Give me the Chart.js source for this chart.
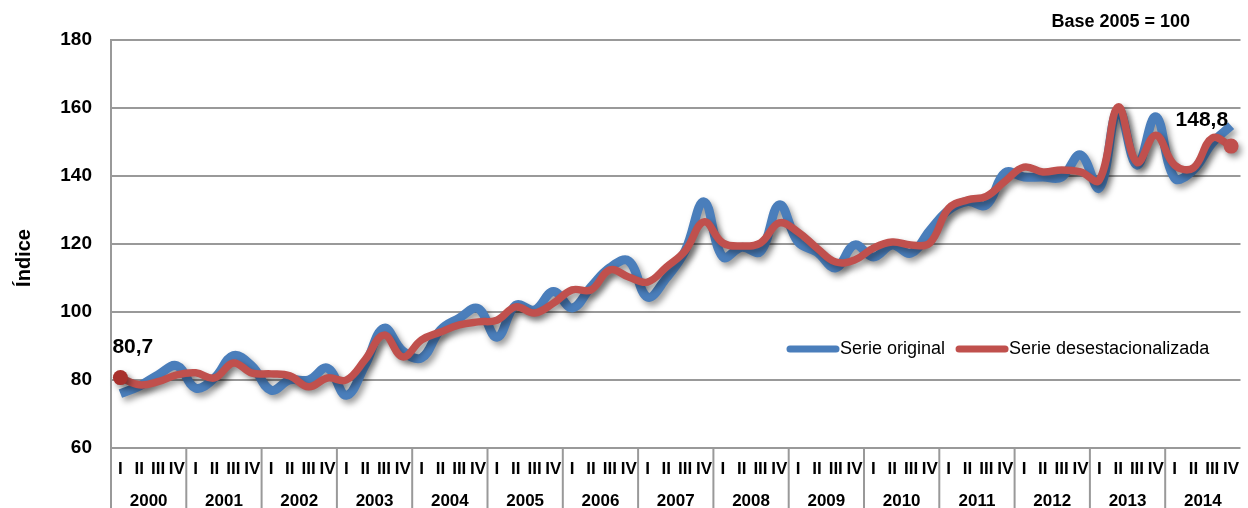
<!DOCTYPE html>
<html>
<head>
<meta charset="utf-8">
<script src="https://cdn.jsdelivr.net/npm/chart.js@4.4.0/dist/chart.umd.min.js"></script>
<style>
  html, body { margin: 0; padding: 0; background: #fff; }
  #wrap { width: 1248px; height: 508px; position: relative; }
</style>
</head>
<body>
<div id="wrap"><canvas id="chart"></canvas></div>
<script>
// Índice trimestral, base 2005 = 100
const years = ["2000", "2001", "2002", "2003", "2004", "2005", "2006", "2007",
  "2008", "2009", "2010", "2011", "2012", "2013", "2014"];
const quarters = ["I", "II", "III", "IV"];

const serieOriginal = [
  76, 78.2, 81.5, 84.2,
  77.6, 80.6, 87.2, 84,
  77, 80, 80, 83.5,
  75.5, 84.4, 95.2, 88.5,
  86.5, 94.7, 98.2, 101,
  92.6, 102, 100.6, 106,
  101.2, 107.4, 113, 115,
  104.4, 110, 118, 132.4,
  116.2, 119, 117.8, 131.5,
  120.6, 117.6, 113, 119.7,
  116.2, 119.7, 117.3, 124,
  130, 132.5, 131.5, 141,
  139.7, 139.7, 139.7, 146.2,
  136.5, 159.5, 143.2, 157.4,
  139.4, 141.8, 149.7, 154.8
];

const serieDesest = [
  80.7, 78.6, 79.5, 81.5,
  82.1, 80.6, 85, 82,
  81.8, 81.2, 78, 80.6,
  80, 86, 93.2, 86.8,
  91.8, 94.1, 96.2, 97.1,
  97.6, 101.5, 99.7, 102.6,
  106.5, 106.5, 112.4, 110.3,
  108.8, 113.2, 118, 126.5,
  120.3, 119.4, 120.3, 126.2,
  123.5, 118.8, 114.7, 115.3,
  118.8, 120.6, 119.7, 120.3,
  130.5, 133, 134, 138.5,
  142.6, 141.2, 141.8, 141.2,
  138.8, 160.3, 144, 152,
  143.2, 142.4, 151.2, 148.8
];

const yTicks = [60, 80, 100, 120, 140, 160, 180];

const BLUE = "#4a7ebb";
const RED = "#c0504d";
const GRID = "#999";
const FONT = "'Liberation Sans', Arial, sans-serif";

const labels = [];
years.forEach(y => quarters.forEach(q => labels.push(q + " " + y)));

const last = serieDesest.length - 1;
const fmtComma = v => v.toFixed(1).replace(".", ",");

// drop shadow under the lines
const shadowPlugin = {
  id: "shadow",
  beforeDatasetsDraw(chart) {
    const c = chart.ctx;
    c.save();
    c.shadowColor = "rgba(0,0,0,0.4)";
    c.shadowBlur = 6;
    c.shadowOffsetX = 3;
    c.shadowOffsetY = 4;
  },
  afterDatasetsDraw(chart) {
    chart.ctx.restore();
  }
};

// axis texts, year boxes, legend, value labels
const decorPlugin = {
  id: "decor",
  afterDraw(chart) {
    const c = chart.ctx;
    const xs = chart.scales.x;
    const ys = chart.scales.y;
    const area = chart.chartArea;
    c.save();
    c.fillStyle = "#000";
    c.textBaseline = "middle";

    // quarter labels
    c.font = "bold 17px " + FONT;
    c.textAlign = "center";
    labels.forEach((l, i) => {
      c.fillText(quarters[i % 4], xs.getPixelForValue(i), 469);
    });

    // year labels + separators
    c.strokeStyle = GRID;
    c.lineWidth = 2;
    years.forEach((y, k) => {
      const mid = (xs.getPixelForValue(k * 4 + 1) + xs.getPixelForValue(k * 4 + 2)) / 2;
      c.fillText(y, mid, 501);
      const bx = k === 0 ? area.left : (xs.getPixelForValue(k * 4 - 1) + xs.getPixelForValue(k * 4)) / 2;
      c.beginPath();
      c.moveTo(bx, area.bottom);
      c.lineTo(bx, 508);
      c.stroke();
    });

    // base note
    c.font = "bold 18px " + FONT;
    c.textAlign = "right";
    c.fillText("Base 2005 = 100", 1190, 22);

    // y title
    c.save();
    c.translate(24, 258);
    c.rotate(-Math.PI / 2);
    c.textAlign = "center";
    c.font = "bold 20px " + FONT;
    c.fillText("Índice", 0, 0);
    c.restore();

    // value labels on first and last point
    c.font = "bold 21px " + FONT;
    c.textAlign = "left";
    c.fillText(fmtComma(serieDesest[0]), xs.getPixelForValue(0) - 8, ys.getPixelForValue(serieDesest[0]) - 30);
    c.textAlign = "right";
    c.fillText(fmtComma(serieDesest[last]), xs.getPixelForValue(last) - 3, ys.getPixelForValue(serieDesest[last]) - 26);

    // legend
    const ly = 349;
    c.lineCap = "round";
    c.lineWidth = 7;
    c.font = "18px " + FONT;
    c.textAlign = "left";
    let x = 790;
    c.strokeStyle = BLUE;
    c.beginPath(); c.moveTo(x, ly); c.lineTo(x + 46, ly); c.stroke();
    c.fillText("Serie original", x + 50, ly);
    x = x + 50 + c.measureText("Serie original").width + 14;
    c.strokeStyle = RED;
    c.beginPath(); c.moveTo(x, ly); c.lineTo(x + 46, ly); c.stroke();
    c.fillText("Serie desestacionalizada", x + 50, ly);
    c.restore();
  }
};

new Chart(document.getElementById("chart"), {
  type: "line",
  data: {
    labels,
    datasets: [
      {
        label: "Serie desestacionalizada",
        data: serieDesest,
        borderColor: RED,
        borderWidth: 7.5,
        tension: 0.4,
        order: 0,
        pointRadius: ctx => (ctx.dataIndex === 0 || ctx.dataIndex === last) ? 7.5 : 0,
        pointBackgroundColor: ctx => ctx.dataIndex === 0 ? "#a8302c" : RED,
        pointBorderWidth: 0,
        clip: false
      },
      {
        label: "Serie original",
        data: serieOriginal,
        borderColor: BLUE,
        borderWidth: 9,
        tension: 0.4,
        order: 1,
        pointRadius: 0,
        clip: false
      }
    ]
  },
  options: {
    responsive: true,
    maintainAspectRatio: false,
    animation: false,
    events: [],
    layout: { padding: { top: 40, right: 0, bottom: 0, left: 0 } },
    plugins: { legend: { display: false }, tooltip: { enabled: false } },
    scales: {
      x: {
        type: "category",
        offset: true,
        grid: { display: false },
        border: { display: false },
        ticks: { display: false },
        afterFit: s => { s.height = 60; }
      },
      y: {
        min: 60,
        max: 180,
        afterBuildTicks: s => { s.ticks = yTicks.map(v => ({ value: v })); },
        grid: { color: GRID, lineWidth: 2, drawTicks: false },
        border: { color: GRID, width: 2 },
        ticks: {
          color: "#000",
          padding: 19,
          font: { family: FONT, size: 19, weight: "bold" }
        },
        afterFit: s => { s.width = 111; }
      }
    }
  },
  plugins: [shadowPlugin, decorPlugin]
});
</script>
</body>
</html>
